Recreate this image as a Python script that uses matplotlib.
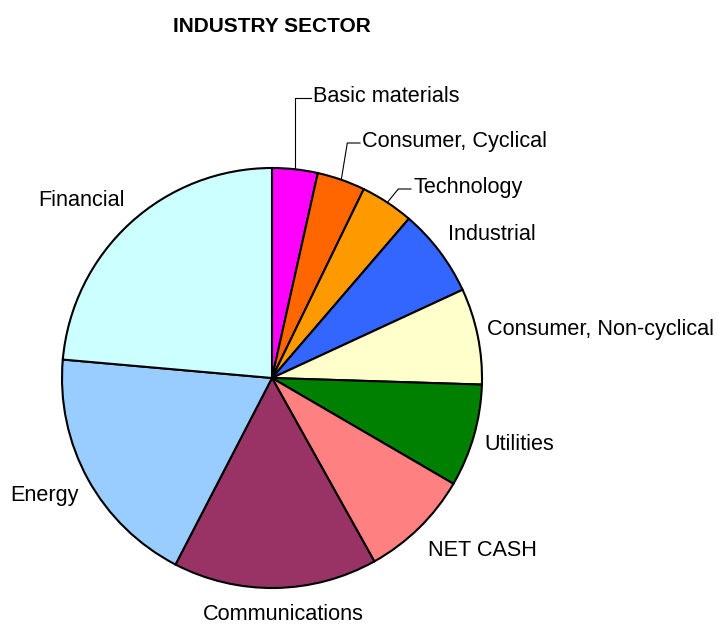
#!/usr/bin/env python3
# Industry sector pie chart

import numpy as np
import matplotlib.pyplot as plt

plt.rcParams["font.family"] = ["Liberation Sans", "DejaVu Sans"]

sectors = [
    "Basic materials",
    "Consumer, Cyclical",
    "Technology",
    "Industrial",
    "Consumer, Non-cyclical",
    "Utilities",
    "NET CASH",
    "Communications",
    "Energy",
    "Financial",
]
weights = [3.5, 3.7, 4.1, 6.8, 7.4, 7.9, 8.5, 15.7, 18.8, 23.6]
colors = [
    "#FF00FF", "#FF6600", "#FF9900", "#3366FF", "#FFFFCC",
    "#008000", "#FF8080", "#993366", "#99CCFF", "#CCFFFF",
]

W, H = 718, 624
fig = plt.figure(figsize=(W / 100, H / 100), dpi=100)
ax = fig.add_axes([0, 0, 1, 1])

cx, cy, r = 272, H - 378, 210
wedges, _ = ax.pie(
    weights,
    colors=colors,
    startangle=90,
    counterclock=False,
    center=(cx, cy),
    radius=r,
    wedgeprops=dict(edgecolor="black", linewidth=1.5),
    frame=True,
)
ax.set_xlim(0, W)
ax.set_ylim(0, H)
ax.set_aspect("equal")
ax.axis("off")

# label positions (pixel coords from top-left), left edge of text
label_pos = {
    "Basic materials": (313, 97),
    "Consumer, Cyclical": (362, 142),
    "Technology": (413, 188),
    "Industrial": (448, 234),
    "Consumer, Non-cyclical": (487, 330),
    "Utilities": (484, 445),
    "NET CASH": (428, 551),
    "Communications": (203, 615),
    "Energy": (10, 496),
    "Financial": (38, 201),
}
leader = ["Basic materials", "Consumer, Cyclical", "Technology"]

for w, name in zip(wedges, sectors):
    tx, ty = label_pos[name]
    ax.text(tx, H - ty, name, fontsize=15.6, ha="left", va="center")
    if name in leader:
        mid = np.deg2rad((w.theta1 + w.theta2) / 2)
        x0 = cx + r * np.cos(mid)
        y0 = cy + r * np.sin(mid)
        # elbow up to the text row, then horizontal
        if name == "Basic materials":
            ex = x0
        elif name == "Technology":
            ex = x0 + 11
        else:
            ex = x0 + (H - ty - y0) * 0.16
        ax.plot([x0, ex, tx - 2], [y0, H - ty - 1, H - ty - 1],
                color="black", lw=0.8)

ax.text(173, H - 27, "INDUSTRY SECTOR", fontsize=15, fontweight="bold",
        ha="left", va="center")

fig.savefig("out.png", dpi=100)
